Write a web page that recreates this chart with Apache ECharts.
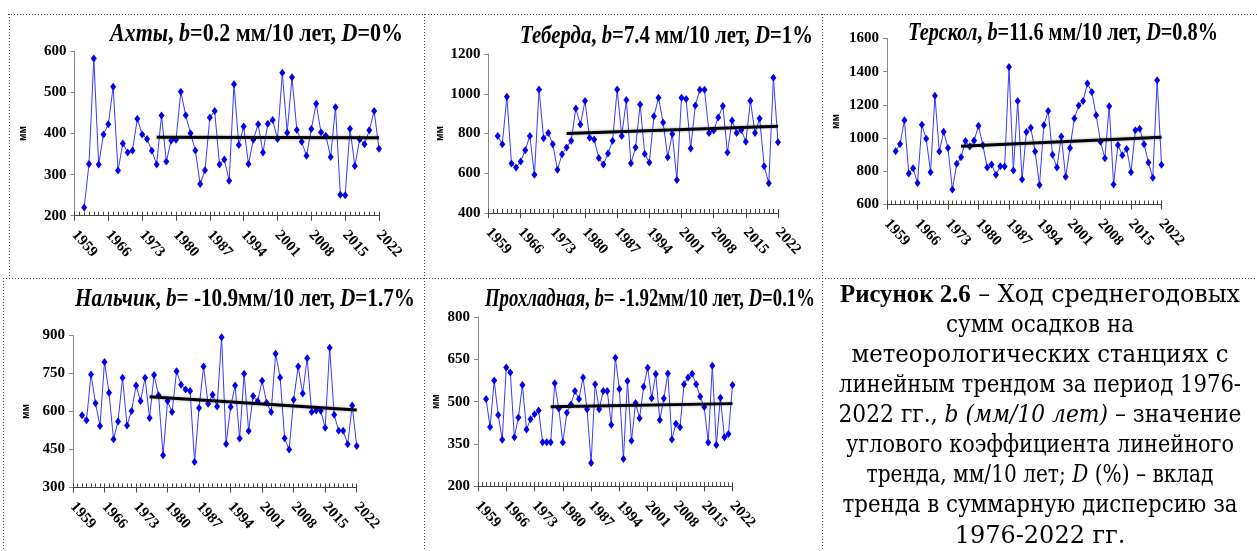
<!DOCTYPE html>
<html><head><meta charset="utf-8">
<script src="https://cdn.jsdelivr.net/npm/echarts@6/dist/echarts.min.js"></script>
<style>html,body{margin:0;padding:0;background:#fff;}#c{width:1257px;height:551px;}
.fp{position:absolute;left:-9999px;top:0;font-size:25px;}</style>
</head><body>
<span class="fp" style="font-family:'DejaVu Serif';">Рисунок 1976</span>
<span class="fp" style="font-family:'DejaVu Serif';font-style:italic;">Рисунок 1976</span>
<span class="fp" style="font-family:'Liberation Serif';font-weight:bold;">Рисунок 1976</span>
<span class="fp" style="font-family:'Liberation Serif';font-style:italic;font-weight:bold;">Рисунок 1976</span>
<div id="c"></div>
<script>
// ---------- DATA ----------
const years = [1961,1962,1963,1964,1965,1966,1967,1968,1969,1970,
  1971,1972,1973,1974,1975,1976,1977,1978,1979,1980,
  1981,1982,1983,1984,1985,1986,1987,1988,1989,1990,
  1991,1992,1993,1994,1995,1996,1997,1998,1999,2000,
  2001,2002,2003,2004,2005,2006,2007,2008,2009,2010,
  2011,2012,2013,2014,2015,2016,2017,2018,2019,2020,
  2021,2022];
const xTickLabels = ['1959','1966','1973','1980','1987','1994','2001','2008','2015','2022'];

const akhtyValues = [220,326,583,325,398,423,514,310,376,354,
  359,436,398,387,358,325,444,332,383,385,
  502,445,401,359,277,311,439,455,325,337,
  285,520,372,417,326,385,423,354,424,433,
  387,548,402,537,409,380,346,411,473,403,
  395,343,464,251,250,412,321,386,374,408,
  455,363];
const teberdaValues = [788,746,985,649,629,659,716,788,592,1022,
  776,803,746,617,696,729,763,926,845,963,
  778,770,677,644,699,763,1022,788,968,650,
  729,946,697,654,887,980,855,681,798,566,
  980,973,724,941,1020,1020,803,815,881,938,
  704,866,803,818,758,965,802,876,635,550,
  1081,756];
const terskolValues = [921,965,1108,787,819,729,1080,996,795,1255,
  919,1038,941,690,845,885,982,949,986,1074,
  957,823,841,779,831,829,1429,805,1224,751,
  1036,1062,919,718,1078,1164,899,823,1010,767,
  941,1118,1196,1224,1329,1277,1138,978,879,1192,
  720,959,897,935,795,1048,1056,963,853,761,
  1349,839];
const nalchikValues = [585,565,746,633,543,795,674,490,561,733,
  545,602,703,641,733,574,744,664,427,641,
  598,759,706,687,681,401,614,778,631,666,
  620,893,472,618,703,493,749,523,661,640,
  721,635,598,828,734,494,450,646,778,671,
  810,598,604,603,536,852,587,524,524,471,
  624,464];
const prokhladnayaValues = [509,410,575,453,365,621,603,374,444,559,
  401,438,455,469,356,356,356,565,476,355,
  461,490,538,509,586,473,283,562,473,538,
  538,418,656,545,297,573,361,495,441,553,
  620,512,598,435,511,600,366,422,409,562,
  586,599,562,518,481,355,627,346,514,374,
  385,559];

const akhtyTrendYears = [1976, 2022];        const akhtyTrend = [391, 390];
const teberdaTrendYears = [1976, 2022];      const teberdaTrend = [800, 837];
const terskolTrendYears = [1976, 2022];      const terskolTrend = [951, 1005];
const nalchikTrendYears = [1976, 2022];      const nalchikTrend = [658, 606];
const prokhladnayaTrendYears = [1977, 2022]; const prokhladnayaTrend = [482, 493];

const stationNames = ['Ахты','Теберда','Терскол','Нальчик','Прохладная'];
const bTexts = ['=0.2 мм/10 лет, ','=7.4 мм/10 лет, ','=11.6 мм/10 лет, ','= -10.9мм/10 лет, ','= -1.92мм/10 лет, '];
const dTexts = ['=0%','=1%','=0.8%','=1.7%','=0.1%'];
const yMins = [200, 400, 600, 300, 200];
const yMaxs = [600, 1200, 1600, 900, 800];
const ySteps = [100, 200, 200, 150, 150];
const yAxisName = 'мм';

const captionLines = [
  [['b','Рисунок 2.6'],['n',' – Ход среднегодовых']],
  [['n','сумм осадков на']],
  [['n','метеорологических станциях с']],
  [['n','линейным трендом за период 1976-']],
  [['n','2022 гг., '],['i','b (мм/10 лет)'],['n',' – значение']],
  [['n','углового коэффициента линейного']],
  [['n','тренда, мм/10 лет; '],['i','D'],['n',' (%) – вклад']],
  [['n','тренда в суммарную дисперсию за']],
  [['n','1976-2022 гг.']]
];

const seriesValues = [akhtyValues, teberdaValues, terskolValues, nalchikValues, prokhladnayaValues];
const trendYearsAll = [akhtyTrendYears, teberdaTrendYears, terskolTrendYears, nalchikTrendYears, prokhladnayaTrendYears];
const trendValuesAll = [akhtyTrend, teberdaTrend, terskolTrend, nalchikTrend, prokhladnayaTrend];

// ---------- LAYOUT ----------
const X0 = 1959, XSPAN = 63;
const layouts = [
  {left:74.5, top:51.5, width:304.5, height:164.2, tR:403, tY:34.5, tW:293, gap:46},
  {left:488.5, top:54, width:289.5, height:159, tR:813, tY:36, tW:293, gap:43},
  {left:887, top:38.5, width:274.5, height:166, tR:1218, tY:33.3, tW:310, gap:46},
  {left:73, top:335.5, width:283.7, height:152, tR:415, tY:299, tW:340, gap:42},
  {left:478, top:317, width:254.5, height:169.3, tR:815, tY:299, tW:330, gap:37}
];
const captionLineWidths = [400, 188, 377, 402, 403, 388, 347, 395, 205];
const SERIF = 'Liberation Serif';
const CAP_REG_FAMILY = '"DejaVu Serif", "Liberation Serif", serif';
const CAP_BOLD_FAMILY = '"Liberation Serif", "DejaVu Serif", serif';

const cv = document.createElement('canvas').getContext('2d');
function mw(font, t){ cv.font = font; return cv.measureText(t).width; }

function buildOption() {
  const grids = [], xAxes = [], yAxes = [], series = [], graphics = [];
  layouts.forEach((L, i) => {
    grids.push({left:L.left, top:L.top, width:L.width, height:L.height, containLabel:false});
    const yMin = yMins[i];
    xAxes.push({gridIndex:i, type:'value', min:0, max:XSPAN, interval:7, position:'bottom',
      axisLine:{show:true, onZero:false, lineStyle:{color:'#444', width:1}},
      axisTick:{show:true, length:5, lineStyle:{color:'#444'}},
      axisLabel:{show:true, rotate:-48, margin:17, fontFamily:SERIF, fontWeight:'bold', fontSize:15, color:'#000',
        formatter: v => xTickLabels[Math.round(v/7)]},
      splitLine:{show:false}});
    xAxes.push({gridIndex:i, type:'value', min:0, max:XSPAN, interval:1, position:'bottom',
      axisLine:{show:false}, axisTick:{show:true, inside:true, length:4, lineStyle:{color:'#444'}},
      axisLabel:{show:false}, splitLine:{show:false}});
    yAxes.push({gridIndex:i, type:'value', min:0, max:yMaxs[i]-yMin, interval:ySteps[i],
      axisLine:{show:true, lineStyle:{color:'#888'}},
      axisTick:{show:true, length:4, lineStyle:{color:'#888'}},
      axisLabel:{margin:8, fontFamily:SERIF, fontWeight:'bold', fontSize:15, color:'#000', formatter: v => String(v + yMin)},
      splitLine:{show:false},
      name:yAxisName, nameLocation:'middle', nameGap:L.gap,
      nameTextStyle:{fontFamily:'Liberation Sans', fontWeight:'bold', fontSize:10, color:'#000'}});
    series.push({type:'line', xAxisIndex:2*i, yAxisIndex:i,
      data: years.map((y,k) => [y - X0, seriesValues[i][k] - yMin]),
      symbol:'diamond', symbolSize:[6,8], showSymbol:true,
      lineStyle:{color:'#3a3aff', width:1}, itemStyle:{color:'#0000f0'}, z:2});
    series.push({type:'line', xAxisIndex:2*i, yAxisIndex:i,
      data: trendYearsAll[i].map((y,k) => [y - X0, trendValuesAll[i][k] - yMin]),
      symbol:'none', lineStyle:{color:'#000', width:3, shadowColor:'rgba(0,0,0,0.35)', shadowBlur:3}, z:3});

    const fi = 'italic bold 26px "' + SERIF + '"', fr = 'bold 26px "' + SERIF + '"';
    const segs = [['i', stationNames[i]], ['r', ', '], ['i', 'b'], ['r', bTexts[i]], ['i', 'D'], ['r', dTexts[i]]];
    let w = 0; segs.forEach(([k,t]) => { w += mw(k === 'i' ? fi : fr, t); });
    graphics.push({type:'text', x:L.tR, y:L.tY, scaleX:L.tW / w, z:10,
      style:{text: segs.map(([k,t]) => '{' + k + '|' + t + '}').join(''), align:'right', verticalAlign:'middle',
        rich:{ i:{font:fi, fontFamily:SERIF, fontStyle:'italic', fontWeight:'bold', fontSize:26, fill:'#000'},
               r:{font:fr, fontFamily:SERIF, fontStyle:'normal', fontWeight:'bold', fontSize:26, fill:'#000'} }}});
  });

  const CAP = 24;
  const capFonts = {
    n: 'normal normal ' + CAP + 'px ' + CAP_REG_FAMILY,
    b: 'normal bold ' + (CAP + 1) + 'px ' + CAP_BOLD_FAMILY,
    i: 'italic normal ' + CAP + 'px ' + CAP_REG_FAMILY
  };
  captionLines.forEach((segs, k) => {
    const wLine = segs.reduce((s, [kk,t]) => s + mw(capFonts[kk], t), 0);
    const sc = Math.min(1.0, captionLineWidths[k] / wLine);
    graphics.push({type:'text', x:1040, y:295.5 + 30.1*k, z:10, scaleX:sc,
      style:{text: segs.map(([kk,t]) => '{' + kk + '|' + t + '}').join(''), align:'center', verticalAlign:'middle',
        font:capFonts.n, fill:'#000',
        rich:{ n:{font:capFonts.n, fontFamily:CAP_REG_FAMILY, fontStyle:'normal', fontWeight:'normal', fontSize:CAP, fill:'#000'},
               b:{font:capFonts.b, fontFamily:CAP_BOLD_FAMILY, fontStyle:'normal', fontWeight:'bold', fontSize:CAP + 1, fill:'#000'},
               i:{font:capFonts.i, fontFamily:CAP_REG_FAMILY, fontStyle:'italic', fontWeight:'normal', fontSize:CAP, fill:'#000'} }}});
  });

  const dotted = {stroke:'#444', lineWidth:1, lineDash:[1,2]};
  [[8,14.5,1257,14.5],[3,278.5,1257,278.5],[9.5,14,9.5,278],[3.5,278,3.5,551],[424.5,14,424.5,551],[822.5,14,822.5,551]]
    .forEach(s => graphics.push({type:'line', shape:{x1:s[0], y1:s[1], x2:s[2], y2:s[3]}, style:dotted, z:1}));

  return {animation:false, backgroundColor:'#fff', grid:grids, xAxis:xAxes, yAxis:yAxes, series:series, graphic:graphics};
}

const chart = echarts.init(document.getElementById('c'), null, {renderer:'canvas'});
function render(){ chart.clear(); chart.setOption(buildOption(), true); }
render();
const fontLoads = ['24px "DejaVu Serif"', 'italic 24px "DejaVu Serif"', 'bold 25px "Liberation Serif"', 'italic bold 26px "Liberation Serif"']
  .map(f => document.fonts ? document.fonts.load(f, 'Рисунок 1976').catch(() => null) : Promise.resolve());
Promise.all(fontLoads).then(() => (document.fonts ? document.fonts.ready : null)).then(render);
setTimeout(render, 250);
setTimeout(render, 800);
</script></body></html>
